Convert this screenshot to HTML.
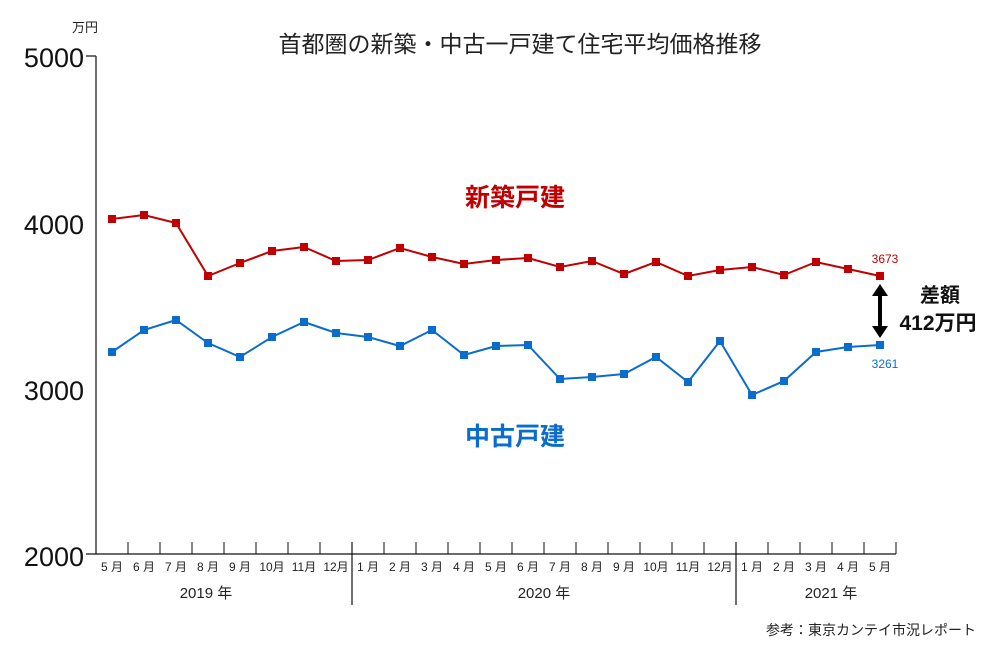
<!DOCTYPE html>
<html><head><meta charset="utf-8"><style>
body{margin:0;background:#fff}
svg text{font-family:"Liberation Sans","Noto Sans CJK JP",sans-serif}
</style></head><body>
<svg width="1000" height="650" viewBox="0 0 1000 650" xmlns="http://www.w3.org/2000/svg">
<text x="520" y="52" font-size="23" text-anchor="middle" fill="#222">首都圏の新築・中古一戸建て住宅平均価格推移</text>
<text x="72" y="32" font-size="13" fill="#222">万円</text>
<g font-size="27" fill="#111" text-anchor="end">
<text x="84" y="67">5000</text><text x="84" y="234">4000</text><text x="84" y="400">3000</text><text x="84" y="566">2000</text>
</g>
<g stroke="#111" stroke-width="1.2">
<line x1="96" y1="56" x2="96" y2="554"/>
<line x1="86" y1="554" x2="896" y2="554"/>
<line x1="86" y1="56" x2="96" y2="56"/>
<line x1="352" y1="542" x2="352" y2="605"/>
<line x1="736" y1="542" x2="736" y2="605"/>
</g>
<path stroke="#111" stroke-width="1" d="M128 542V554M160 542V554M192 542V554M224 542V554M256 542V554M288 542V554M320 542V554M384 542V554M416 542V554M448 542V554M480 542V554M512 542V554M544 542V554M576 542V554M608 542V554M640 542V554M672 542V554M704 542V554M768 542V554M800 542V554M832 542V554M864 542V554M896 542V554"/>
<g font-size="12" fill="#222" text-anchor="middle">
<text x="112" y="571">5 月</text><text x="144" y="571">6 月</text><text x="176" y="571">7 月</text><text x="208" y="571">8 月</text><text x="240" y="571">9 月</text><text x="272" y="571">10月</text><text x="304" y="571">11月</text><text x="336" y="571">12月</text>
<text x="368" y="571">1 月</text><text x="400" y="571">2 月</text><text x="432" y="571">3 月</text><text x="464" y="571">4 月</text><text x="496" y="571">5 月</text><text x="528" y="571">6 月</text><text x="560" y="571">7 月</text><text x="592" y="571">8 月</text><text x="624" y="571">9 月</text><text x="656" y="571">10月</text><text x="688" y="571">11月</text><text x="720" y="571">12月</text>
<text x="752" y="571">1 月</text><text x="784" y="571">2 月</text><text x="816" y="571">3 月</text><text x="848" y="571">4 月</text><text x="880" y="571">5 月</text>
</g>
<g font-size="15" fill="#222" text-anchor="middle">
<text x="206" y="598">2019 年</text><text x="544" y="598">2020 年</text><text x="831" y="598">2021 年</text>
</g>
<text x="976" y="635" font-size="14" fill="#222" text-anchor="end">参考：東京カンテイ市況レポート</text>
<text x="515" y="206" font-size="25" fill="#c00000" text-anchor="middle" font-weight="bold">新築戸建</text>
<text x="515" y="445" font-size="25" fill="#0a6ccc" text-anchor="middle" font-weight="bold">中古戸建</text>
<text x="885" y="263" font-size="12" fill="#c00000" text-anchor="middle">3673</text>
<text x="885" y="368" font-size="12" fill="#0a6ccc" text-anchor="middle">3261</text>
<text x="940" y="302" font-size="20" fill="#111" text-anchor="middle" font-weight="bold">差額</text>
<text x="938" y="330" font-size="21" fill="#111" text-anchor="middle" font-weight="bold">412万円</text>
<line x1="880" y1="296" x2="880" y2="326" stroke="#000" stroke-width="4"/>
<polygon points="872,296 888,296 880,284" fill="#000"/>
<polygon points="872,326 888,326 880,338" fill="#000"/>
<polyline fill="none" stroke="#c00000" stroke-width="2" points="112,219 144,215 176,223 208,276 240,263 272,251 304,247 336,261 368,260 400,248 432,257 464,264 496,260 528,258 560,267 592,261 624,274 656,262 688,276 720,270 752,267 784,275 816,262 848,269 880,276"/>
<polyline fill="none" stroke="#0a6ccc" stroke-width="2" points="112,352 144,330 176,320 208,343 240,357 272,337 304,322 336,333 368,337 400,346 432,330 464,355 496,346 528,345 560,379 592,377 624,374 656,357 688,382 720,341 752,395 784,381 816,352 848,347 880,345"/>
<path fill="#c00000" d="M108 215h8v8h-8zM140 211h8v8h-8zM172 219h8v8h-8zM204 272h8v8h-8zM236 259h8v8h-8zM268 247h8v8h-8zM300 243h8v8h-8zM332 257h8v8h-8zM364 256h8v8h-8zM396 244h8v8h-8zM428 253h8v8h-8zM460 260h8v8h-8zM492 256h8v8h-8zM524 254h8v8h-8zM556 263h8v8h-8zM588 257h8v8h-8zM620 270h8v8h-8zM652 258h8v8h-8zM684 272h8v8h-8zM716 266h8v8h-8zM748 263h8v8h-8zM780 271h8v8h-8zM812 258h8v8h-8zM844 265h8v8h-8zM876 272h8v8h-8z"/>
<path fill="#0a6ccc" d="M108 348h8v8h-8zM140 326h8v8h-8zM172 316h8v8h-8zM204 339h8v8h-8zM236 353h8v8h-8zM268 333h8v8h-8zM300 318h8v8h-8zM332 329h8v8h-8zM364 333h8v8h-8zM396 342h8v8h-8zM428 326h8v8h-8zM460 351h8v8h-8zM492 342h8v8h-8zM524 341h8v8h-8zM556 375h8v8h-8zM588 373h8v8h-8zM620 370h8v8h-8zM652 353h8v8h-8zM684 378h8v8h-8zM716 337h8v8h-8zM748 391h8v8h-8zM780 377h8v8h-8zM812 348h8v8h-8zM844 343h8v8h-8zM876 341h8v8h-8z"/>
</svg>
</body></html>
